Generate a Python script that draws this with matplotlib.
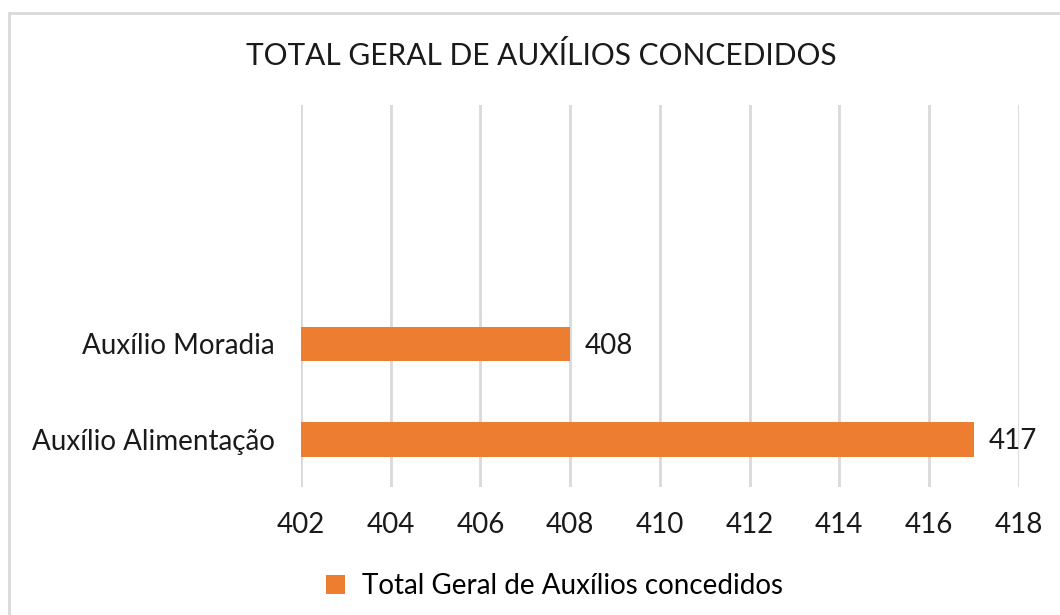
import matplotlib.pyplot as plt
from matplotlib.patches import Rectangle

categories = ["Auxílio Alimentação", "Auxílio Moradia", "", ""]
values = [417, 408]
ticks = [402, 404, 406, 408, 410, 412, 414, 416, 418]
title = "TOTAL GERAL DE AUXÍLIOS CONCEDIDOS"
series_name = "Total Geral de Auxílios concedidos"

ORANGE = "#ED7D31"
GRID = "#D9D9D9"
TEXT = "#1a1a1a"

plt.rcParams["font.family"] = ["Lato", "DejaVu Sans"]

fig = plt.figure(figsize=(10.6, 6.15), dpi=100)
ax = fig.add_axes([0.284, 0.208, 0.677, 0.621])

base = ticks[0]
pos = list(range(len(values)))
bars = ax.barh(pos, [v - base for v in values], left=base, height=0.36,
               color=ORANGE, label=series_name, zorder=3)
for p, v in zip(pos, values):
    ax.text(v + 0.33, p - 0.02, f"{v}", va="center", ha="left", fontsize=20, color=TEXT)

ax.set_xlim(ticks[0], ticks[-1])
ax.set_ylim(-0.5, len(categories) - 0.5)
ax.set_xticks(ticks)
ax.set_xticklabels([str(t) for t in ticks], fontsize=20, color=TEXT)
ax.set_yticks(range(len(categories)))
ax.set_yticklabels(categories, fontsize=20, color=TEXT)
ax.tick_params(length=0)
ax.tick_params(axis="y", pad=19)
ax.tick_params(axis="x", pad=18)
ax.xaxis.grid(True, color=GRID, linewidth=2, zorder=0)
for s in ax.spines.values():
    s.set_visible(False)

fig.text(0.511, 0.91, title, ha="center", va="center", fontsize=21.5, color=TEXT)
fig.legend(handles=[bars], labels=[series_name], loc="center",
           bbox_to_anchor=(0.523, 0.047), frameon=False, fontsize=20,
           handlelength=0.7, handleheight=0.7, handletextpad=0.6)

fig.patches.append(Rectangle((9 / 1060, -0.1), 1.2, 1 - 13 / 615 + 0.1,
                             transform=fig.transFigure, fill=False,
                             edgecolor=GRID, linewidth=2))

fig.savefig("out.png", dpi=100)
